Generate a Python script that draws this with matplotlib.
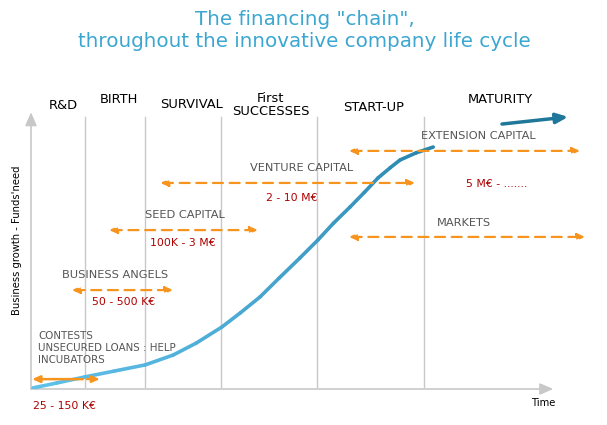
import matplotlib.pyplot as plt
from matplotlib.collections import LineCollection
import numpy as np

# life-cycle stages (x = time, 0..100)
stage_names = ["R&D", "BIRTH", "SURVIVAL", "First\nSUCCESSES", "START-UP", "MATURITY"]
stage_label_x = [6.2, 17.0, 31.1, 46.4, 66.3, 90.7]
stage_label_y = [103.3, 105.5, 104.0, 103.6, 102.9, 105.5]
stage_bounds = [10.4, 22.1, 36.8, 55.3, 76.0]

# growth curve
curve_x = [0.4, 5.0, 10.4, 16.0, 22.1, 27.5, 32.0, 36.9, 40.5, 44.3, 48.0, 52.0, 55.5,
           58.5, 61.7, 64.5, 67.1, 69.5, 71.4, 74.5, 77.8]
curve_y = [0.4, 2.2, 4.4, 6.5, 8.8, 12.4, 16.8, 22.6, 27.8, 33.6, 40.5, 47.8, 54.4,
           60.5, 66.4, 71.8, 77.0, 80.8, 83.6, 86.2, 88.3]
maturity_arrow = [(91.1, 96.7), (103.9, 99.3)]

# financing ranges: (name, x start, x end, y, name pos, amount, amount pos)
fin_names = ["BUSINESS ANGELS", "SEED CAPITAL", "VENTURE CAPITAL",
             "EXTENSION CAPITAL", "MARKETS"]
fin_x0 = [7.9, 15.1, 25.0, 61.5, 61.5]
fin_x1 = [27.5, 43.9, 74.3, 106.2, 107.2]
fin_y = [36.1, 58.0, 75.2, 86.9, 55.5]
fin_label_pos = [(16.2, 41.6), (29.8, 63.5), (52.4, 80.7), (86.5, 92.3), (83.8, 60.6)]
amounts = ["50 - 500 K€", "100K - 3 M€", "2 - 10 M€", "5 M€ - ......."]
amount_pos = [(18.0, 31.8), (29.4, 53.3), (50.5, 69.7), (90.1, 74.8)]

contests_text = "CONTESTS\nUNSECURED LOANS : HELP\nINCUBATORS"
contests_x0, contests_mid, contests_x1, contests_y = 0.2, 10.0, 13.3, 3.6
contests_amount = "25 - 150 K€"

ORANGE = "#f7941d"
GRAY = "#555555"
RED = "#b00000"
AXIS = "#c8c8c8"

fig = plt.figure(figsize=(6.07, 4.25), dpi=100)
ax = fig.add_axes([31 / 607, 36 / 425, 517 / 607, 274 / 425])
ax.set_xlim(0, 100)
ax.set_ylim(0, 100)
ax.axis("off")

fig.text(0.502, 0.928, 'The financing "chain",\nthroughout the innovative company life cycle',
         ha="center", va="center", color="#3ba7d1", fontsize=14.3, linespacing=1.15)

# axes with arrow heads
ax.annotate("", xy=(101, 0), xytext=(0, 0), annotation_clip=False,
            arrowprops=dict(arrowstyle="-|>,head_length=0.8,head_width=0.35",
                            color=AXIS, lw=1.2, shrinkA=0, shrinkB=0))
ax.annotate("", xy=(0, 101), xytext=(0, 0), annotation_clip=False,
            arrowprops=dict(arrowstyle="-|>,head_length=0.8,head_width=0.35",
                            color=AXIS, lw=1.2, shrinkA=0, shrinkB=0))
for b in stage_bounds:
    ax.plot([b, b], [0.8, 99.3], color=AXIS, lw=1, zorder=1)

for name, lx, ly in zip(stage_names, stage_label_x, stage_label_y):
    ax.text(lx, ly, name, ha="center", va="center", fontsize=9.4, color="black",
            linespacing=1.0)

# growth curve, light to dark blue
pts = np.column_stack([curve_x, curve_y])
segs = np.stack([pts[:-1], pts[1:]], axis=1)
cmap = plt.matplotlib.colors.LinearSegmentedColormap.from_list("g", ["#5fc0ea", "#2a86ad"])
lc = LineCollection(segs, colors=cmap(np.linspace(0, 1, len(segs))), linewidths=2.6,
                    capstyle="round", joinstyle="round", zorder=3)
ax.add_collection(lc)
ax.annotate("", xy=maturity_arrow[1], xytext=maturity_arrow[0], annotation_clip=False,
            arrowprops=dict(arrowstyle="-|>,head_length=0.7,head_width=0.3",
                            color="#1f7799", lw=2.5, shrinkA=0, shrinkB=0))

dash_props = dict(arrowstyle="<|-|>,head_length=0.45,head_width=0.2", color=ORANGE,
                  lw=1.6, linestyle=(0, (4.5, 3)), shrinkA=0, shrinkB=0)
for x0, x1, y in zip(fin_x0, fin_x1, fin_y):
    ax.annotate("", xy=(x1, y), xytext=(x0, y), annotation_clip=False,
                arrowprops=dash_props, zorder=4)
for name, (lx, ly) in zip(fin_names, fin_label_pos):
    ax.text(lx, ly, name, ha="center", va="center", fontsize=8.2, color=GRAY)
for amt, (lx, ly) in zip(amounts, amount_pos):
    ax.text(lx, ly, amt, ha="center", va="center", fontsize=7.8, color=RED)

# contests / loans
ax.annotate("", xy=(contests_x0, contests_y), xytext=(contests_mid, contests_y),
            annotation_clip=False, zorder=4,
            arrowprops=dict(arrowstyle="-|>,head_length=0.45,head_width=0.2",
                            color=ORANGE, lw=1.8, shrinkA=0, shrinkB=0))
ax.annotate("", xy=(contests_x1, contests_y), xytext=(contests_mid + 0.8, contests_y),
            annotation_clip=False, zorder=4,
            arrowprops=dict(arrowstyle="-|>,head_length=0.45,head_width=0.2",
                            color=ORANGE, lw=1.6, shrinkA=0, shrinkB=0))
ax.text(1.4, 21.2, contests_text, ha="left", va="top", fontsize=7.4, color=GRAY,
        linespacing=1.25)
ax.text(6.4, -6.2, contests_amount, ha="center", va="center", fontsize=7.8, color=RED)

ax.text(99.0, -5.1, "Time", ha="center", va="center", fontsize=7.2, color="black")
fig.text(17 / 607, 1 - 240 / 425, "Business growth - Funds'need", rotation=90,
         ha="center", va="center", fontsize=7.2, color="black")

fig.savefig("out.png", dpi=100)
